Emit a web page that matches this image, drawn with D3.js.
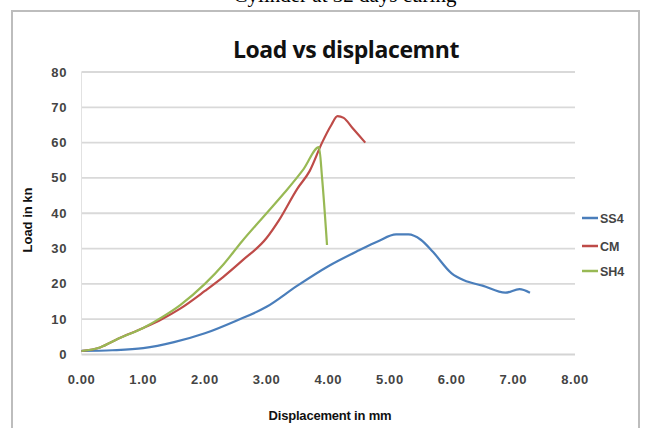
<!DOCTYPE html>
<html><head><meta charset="utf-8">
<script src="https://cdn.jsdelivr.net/npm/d3@7/dist/d3.min.js"></script>
<style>body{margin:0;background:#fff;}svg{display:block;}</style>
</head><body>
<svg id="c" width="645" height="428"></svg>
<script>
const seriesNames = ["SS4", "CM", "SH4"];
const seriesColors = ["#4a7ebb", "#be4b48", "#98b954"];
const xTicks = [0, 1, 2, 3, 4, 5, 6, 7, 8];
const yTicks = [0, 10, 20, 30, 40, 50, 60, 70, 80];
const ss4 = [[0,1],[0.5,1.2],[1.0,1.8],[1.5,3.5],[2.0,6],[2.5,9.5],[3.0,13.5],[3.5,19.5],[4.0,25],[4.5,29.5],[4.8,32],[5.1,34],[5.3,34],[5.5,32.5],[5.7,29],[6.0,23],[6.2,21],[6.5,19.5],[6.87,17.5],[7.1,18.5],[7.27,17.5]];
const cm = [[0,1],[0.3,2],[0.6,4.5],[1.0,7.5],[1.3,10],[1.6,13],[2.0,18],[2.3,22],[2.6,26.5],[3.0,33],[3.2,38],[3.5,47],[3.7,52],[3.9,60],[4.05,65],[4.15,67.5],[4.25,67],[4.4,64],[4.6,60]];
const sh4 = [[0,1],[0.3,2],[0.6,4.5],[1.0,7.5],[1.3,10.5],[1.6,14],[2.0,20],[2.3,25.5],[2.6,32],[3.0,40],[3.3,46],[3.6,52.5],[3.85,58.7],[3.9,50],[3.98,31]];
const seriesData = [ss4, cm, sh4];

const svg = d3.select("#c");
// top caption (clipped)
svg.append("text").attr("x", 345).attr("y", 2).attr("text-anchor", "middle")
  .attr("font-family", "Liberation Serif, serif").attr("font-size", 21).attr("fill", "#000")
  .text("Cylinder at 32 days curing");
// frame
svg.append("rect").attr("x", 12).attr("y", 11).attr("width", 627).attr("height", 430)
  .attr("fill", "#fff").attr("stroke", "#bdbdbd").attr("stroke-width", 2);

const x = d3.scaleLinear().domain([0, 8]).range([81.5, 575]);
const y = d3.scaleLinear().domain([0, 80]).range([354.5, 72]);

// gridlines
svg.append("g").selectAll("line").data(yTicks.slice(1)).join("line")
  .attr("x1", x(0)).attr("x2", x(8)).attr("y1", d => y(d)).attr("y2", d => y(d))
  .attr("stroke", "#d9d9d9").attr("stroke-width", 1.8);
// axes lines
svg.append("line").attr("x1", x(0)).attr("x2", x(8)).attr("y1", y(0)).attr("y2", y(0))
  .attr("stroke", "#d4d4d4").attr("stroke-width", 1.8);
svg.append("line").attr("x1", x(0)).attr("x2", x(0)).attr("y1", y(0)).attr("y2", y(80))
  .attr("stroke", "#e2e2e2").attr("stroke-width", 1);

const tickFont = "Liberation Sans, Arial, sans-serif";
svg.append("g").selectAll("text").data(yTicks).join("text")
  .attr("x", 67).attr("y", d => y(d) + 4.5).attr("text-anchor", "end")
  .attr("font-family", tickFont).attr("font-weight", "bold").attr("font-size", 13).attr("fill", "#444")
  .attr("letter-spacing", 0.6)
  .text(d => d);
svg.append("g").selectAll("text").data(xTicks).join("text")
  .attr("x", d => x(d)).attr("y", 384).attr("text-anchor", "middle")
  .attr("font-family", tickFont).attr("font-weight", "bold").attr("font-size", 13).attr("fill", "#444")
  .attr("letter-spacing", 0.6)
  .text(d => d3.format(".2f")(d));

// axis titles
svg.append("text").attr("transform", "translate(32,220) rotate(-90)").attr("text-anchor", "middle")
  .attr("font-family", tickFont).attr("font-weight", "bold").attr("font-size", 13).attr("fill", "#111")
  .text("Load in kn");
svg.append("text").attr("x", 330).attr("y", 420).attr("text-anchor", "middle")
  .attr("font-family", tickFont).attr("font-weight", "bold").attr("font-size", 13).attr("fill", "#111")
  .attr("letter-spacing", -0.2)
  .text("Displacement in mm");

// title
svg.append("text").attr("x", 346).attr("y", 58).attr("text-anchor", "middle")
  .attr("font-family", "Open Sans, sans-serif").attr("font-weight", "bold").attr("font-size", 23).attr("fill", "#111")
  .attr("letter-spacing", -0.4)
  .text("Load vs displacemnt");

// lines
const line = d3.line().x(d => x(d[0])).y(d => y(d[1])).curve(d3.curveMonotoneX);
svg.append("g").selectAll("path").data(seriesData).join("path")
  .attr("d", line).attr("fill", "none")
  .attr("stroke", (d, i) => seriesColors[i]).attr("stroke-width", 2.2).attr("stroke-linejoin", "round");

// legend
const leg = svg.append("g").selectAll("g").data(seriesNames).join("g")
  .attr("transform", (d, i) => `translate(582,${[218, 246, 271][i]})`);
leg.append("line").attr("x1", 0).attr("x2", 16).attr("stroke", (d, i) => seriesColors[i]).attr("stroke-width", 2.5);
leg.append("text").attr("x", 18).attr("y", 4.5).attr("font-family", tickFont).attr("font-weight", "bold")
  .attr("font-size", 12.5).attr("fill", "#444").text(d => d);
</script>
</body></html>
